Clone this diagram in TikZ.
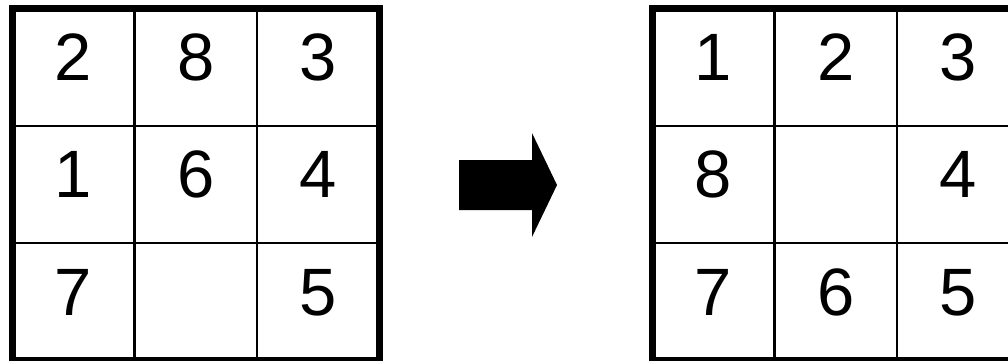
\documentclass[tikz,border=0pt]{standalone}
\usepackage{fontspec}
\setmainfont{Liberation Sans}
\begin{document}
\begin{tikzpicture}[x=1pt,y=-1pt,
  frame/.style={line width=7pt},
  cellline/.style={line width=2.6pt},
  digit/.style={inner sep=0pt,anchor=base,font=\fontsize{67}{67}\selectfont},
  bigarrow/.style={fill=black,draw=none}]
\useasboundingbox (0,0) rectangle (1008,360);
\clip (0,0) rectangle (1008,360);
\fill[white] (0,0) rectangle (1008,360);
% left grid
\def\lx{12}\def\ty{8.5}\def\cw{122.5}\def\ch{117.3}
\foreach \i in {1,2} {
  \draw[cellline] ({\lx+\i*\cw},\ty) -- ({\lx+\i*\cw},{\ty+3*\ch});
  \draw[cellline] (\lx,{\ty+\i*\ch}) -- ({\lx+3*\cw},{\ty+\i*\ch});
}
\draw[frame] (\lx,\ty) rectangle ({\lx+3*\cw},{\ty+3*\ch});
% right grid
\def\rx{652}
\foreach \i in {1,2} {
  \draw[cellline] ({\rx+\i*\cw},\ty) -- ({\rx+\i*\cw},{\ty+3*\ch});
  \draw[cellline] (\rx,{\ty+\i*\ch}) -- ({\rx+3*\cw},{\ty+\i*\ch});
}
\draw[frame] (\rx,\ty) rectangle ({\rx+3*\cw},{\ty+3*\ch});
% digits left
\foreach \t/\c/\r [count=\k] in {2/0/0,8/1/0,3/2/0,1/0/1,6/1/1,4/2/1,7/0/2,5/2/2} {
  \node[digit] (L\k) at ({\lx+(\c+0.5)*\cw},{\ty+(\r+0.5)*\ch+13.5}) {\t};
}
% digits right
\foreach \t/\c/\r [count=\k] in {1/0/0,2/1/0,3/2/0,8/0/1,4/2/1,7/0/2,6/1/2,5/2/2} {
  \node[digit] (R\k) at ({\rx+(\c+0.5)*\cw},{\ty+(\r+0.5)*\ch+13.5}) {\t};
}
% arrow
\coordinate (arrowtip) at (557,185);
\fill[bigarrow] (459,160) -- (532,160) -- (532,133) -- (arrowtip) -- (532,237) -- (532,210) -- (459,210) -- cycle;
\end{tikzpicture}
\end{document}
